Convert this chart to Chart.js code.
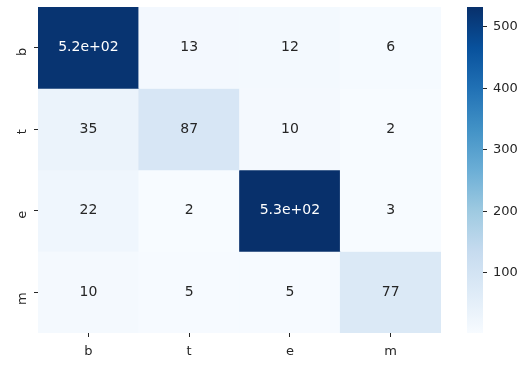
<!DOCTYPE html>
<html>
<head>
<meta charset="utf-8">
<script src="https://cdn.jsdelivr.net/npm/chart.js@4"></script>
<style>
  body { margin: 0; background: #fff; }
  #wrap { position: relative; width: 529px; height: 372px; }
  #wrap canvas { position: absolute; left: 0; top: 0; }
</style>
</head>
<body>
<div id="wrap">
  <canvas id="heat" width="529" height="372"></canvas>
  <canvas id="cbar" width="529" height="372"></canvas>
</div>
<script>
// confusion matrix, rows = true label, cols = predicted
var rowLabels = ['b', 't', 'e', 'm'];
var colLabels = ['b', 't', 'e', 'm'];
var rowB = [524, 13, 12, 6];
var rowT = [35, 87, 10, 2];
var rowE = [22, 2, 532, 3];
var rowM = [10, 5, 5, 77];
var matrix = [rowB, rowT, rowE, rowM];
var cbTicks = [100, 200, 300, 400, 500];

var allVals = matrix.reduce(function (a, r) { return a.concat(r); }, []);
var vmin = Math.min.apply(null, allVals);
var vmax = Math.max.apply(null, allVals);

// matplotlib "Blues"
var blues = ['#f7fbff', '#deebf7', '#c6dbef', '#9ecae1', '#6baed6', '#4292c6', '#2171b5', '#08519c', '#08306b'];
function hexRgb(h) {
    return [parseInt(h.substr(1, 2), 16), parseInt(h.substr(3, 2), 16), parseInt(h.substr(5, 2), 16)];
}
function bluesRgb(t) {
    t = Math.max(0, Math.min(1, t));
    var p = t * (blues.length - 1);
    var i = Math.min(Math.floor(p), blues.length - 2);
    var f = p - i;
    var a = hexRgb(blues[i]), b = hexRgb(blues[i + 1]);
    return [0, 1, 2].map(function (k) { return Math.round(a[k] + (b[k] - a[k]) * f); });
}
function colorFor(v) {
    var c = bluesRgb((v - vmin) / (vmax - vmin));
    return 'rgb(' + c.join(',') + ')';
}
function textColorFor(v) {
    var c = bluesRgb((v - vmin) / (vmax - vmin)).map(function (x) {
        x = x / 255;
        return x <= 0.03928 ? x / 12.92 : Math.pow((x + 0.055) / 1.055, 2.4);
    });
    var lum = 0.2126 * c[0] + 0.7152 * c[1] + 0.0722 * c[2];
    return lum > 0.408 ? '#262626' : '#ffffff';
}
// like python's '.2g'
function fmt2g(v) {
    if (Math.abs(v) < 100) return String(v);
    var s = v.toExponential(1);
    return s.replace(/e([+-])(\d)$/, 'e$10$2');
}

Chart.defaults.font.family = 'DejaVu Sans';
Chart.defaults.font.size = 13;
Chart.defaults.color = '#262626';

var datasets = matrix.map(function (row, i) {
    return {
        label: rowLabels[i],
        data: row.map(function () { return [i, i + 1]; }),
        backgroundColor: row.map(colorFor),
        borderWidth: 0,
        barPercentage: 1,
        categoryPercentage: 1,
        grouped: false
    };
});

var annotate = {
    id: 'annotate',
    afterDatasetsDraw: function (chart) {
        var ctx = chart.ctx;
        ctx.save();
        ctx.font = '14px "DejaVu Sans"';
        ctx.textAlign = 'center';
        ctx.textBaseline = 'middle';
        matrix.forEach(function (row, i) {
            var meta = chart.getDatasetMeta(i);
            row.forEach(function (v, j) {
                var el = meta.data[j];
                ctx.fillStyle = textColorFor(v);
                ctx.fillText(fmt2g(v), el.x, (el.y + el.base) / 2);
            });
        });
        ctx.restore();
    }
};

function tickGrid() {
    return { offset: false, display: true, drawOnChartArea: false, drawTicks: true, tickLength: 4, color: '#262626', lineWidth: 1 };
}

function noPad(s) {
    s.paddingTop = 0; s.paddingBottom = 0; s.paddingLeft = 0; s.paddingRight = 0;
}

new Chart(document.getElementById('heat').getContext('2d'), {
    type: 'bar',
    data: { labels: colLabels, datasets: datasets },
    options: {
        responsive: false,
        animation: false,
        layout: { padding: { left: 0, top: 7, right: 88, bottom: 0 } },
        plugins: { legend: { display: false }, tooltip: { enabled: false } },
        scales: {
            x: {
                type: 'category',
                offset: true,
                grid: tickGrid(),
                border: { display: false },
                ticks: { padding: 7 },
                afterFit: function (s) { s.height = 39; noPad(s); }
            },
            y: { type: 'linear', display: false, min: 0, max: 4, reverse: true },
            yc: {
                type: 'category',
                labels: rowLabels,
                position: 'left',
                offset: true,
                grid: tickGrid(),
                border: { display: false },
                ticks: { minRotation: 90, maxRotation: 90, padding: 11 },
                afterFit: function (s) { s.width = 38; noPad(s); }
            }
        }
    },
    plugins: [annotate]
});

function cbGradient(context) {
    var area = context.chart.chartArea;
    if (!area) return blues[8];
    var g = context.chart.ctx.createLinearGradient(0, area.bottom, 0, area.top);
    blues.forEach(function (c, k) { g.addColorStop(k / (blues.length - 1), c); });
    return g;
}

new Chart(document.getElementById('cbar').getContext('2d'), {
    type: 'bar',
    data: {
        labels: [''],
        datasets: [{
            data: [[vmin, vmax]],
            backgroundColor: cbGradient,
            borderWidth: 0,
            barPercentage: 1,
            categoryPercentage: 1
        }]
    },
    options: {
        responsive: false,
        animation: false,
        layout: { padding: { left: 467, top: 7, right: 0, bottom: 39 } },
        plugins: { legend: { display: false }, tooltip: { enabled: false } },
        scales: {
            x: { display: false },
            y: {
                position: 'right',
                min: vmin,
                max: vmax,
                afterBuildTicks: function (s) {
                    s.ticks = cbTicks.map(function (v) { return { value: v }; });
                },
                grid: tickGrid(),
                border: { display: false },
                ticks: { padding: 6 },
                afterFit: function (s) { s.width = 46; noPad(s); }
            }
        }
    }
});
</script>
</body>
</html>
